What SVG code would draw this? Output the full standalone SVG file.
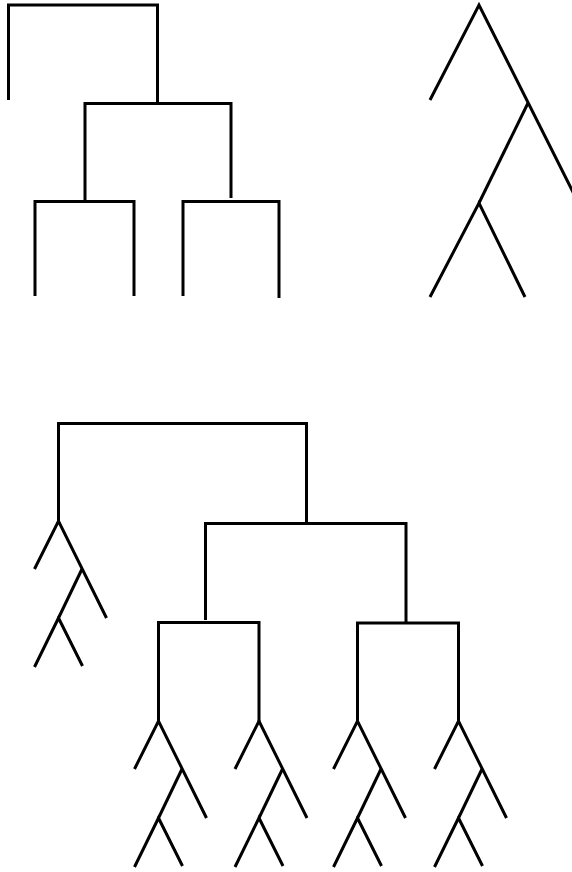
<svg xmlns="http://www.w3.org/2000/svg" xmlns:xlink="http://www.w3.org/1999/xlink" width="572" height="872" viewBox="0 0 572 872">
<style>
.ln{fill:none;stroke:#000;stroke-width:3;stroke-linejoin:miter;stroke-linecap:butt}
</style>
<defs>
<g id="small" class="ln">
<path d="M-24,48 L0,0 L48,97"/>
<path d="M23.5,48 L0,97"/>
<path d="M-24,146 L0,97 L24,145"/>
</g>
</defs>
<rect width="572" height="872" fill="#fff"/>
<g id="tree-top-left" class="ln">
<path d="M8.5,100 V5 H157.5 V103.5"/>
<path d="M85,201 V103.5 H231 V198"/>
<path d="M35,296 V201.5 H134 V296"/>
<path d="M183,296 V201.5 H279 V298"/>
</g>
<g id="tree-top-right" class="ln">
<path d="M430,100 L479,5 L577,200"/>
<path d="M528,103 L479,203"/>
<path d="M430,297 L479,203 L525,297"/>
</g>
<g id="tree-bottom" class="ln">
<path d="M58.5,522 V423.5 H306.5 V523"/>
<path d="M205.5,620 V523.5 H406 V622"/>
<path d="M158.5,722 V622.5 H259 V722"/>
<path d="M357.5,722 V623 H458.5 V722"/>
</g>
<g id="subtrees">
<use xlink:href="#small" transform="translate(58.5,521)"/>
<use xlink:href="#small" transform="translate(158.5,721)"/>
<use xlink:href="#small" transform="translate(259,721)"/>
<use xlink:href="#small" transform="translate(357.5,721)"/>
<use xlink:href="#small" transform="translate(458.5,721)"/>
</g>
</svg>
